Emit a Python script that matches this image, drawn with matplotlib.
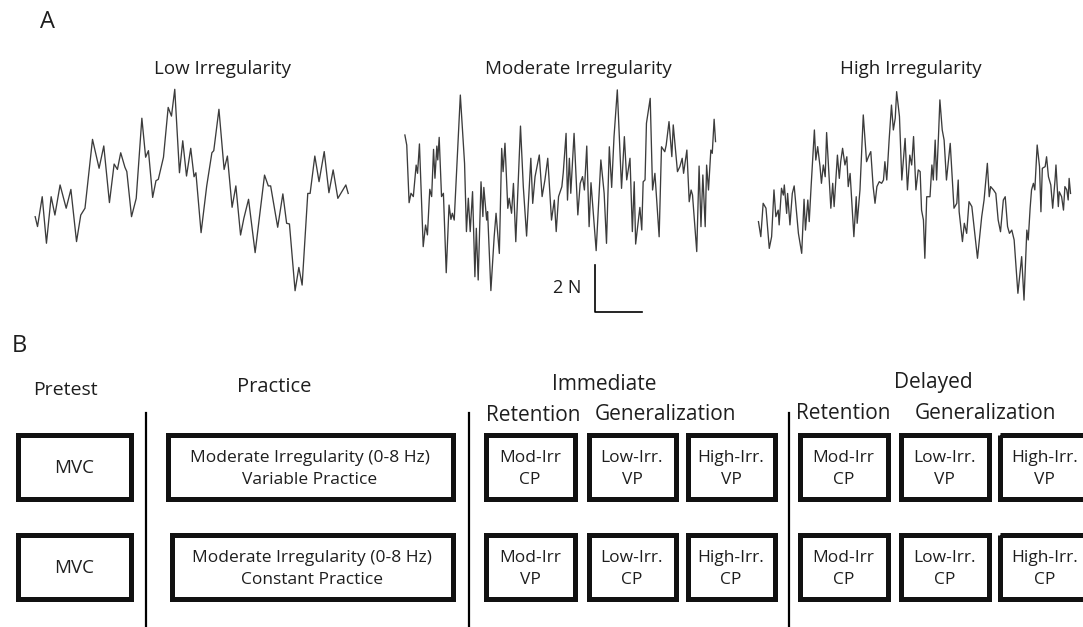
import matplotlib.pyplot as plt
from matplotlib.patches import Rectangle

plt.rcParams['font.family'] = ['Open Sans', 'DejaVu Sans']

W, H = 1083, 627

# Example force traces: time (s) and force (N, relative to the trace mean)
low_t = [0.11, 0.16, 0.26, 0.35, 0.45, 0.53, 0.64, 0.77, 0.87, 0.99, 1.08, 1.17, 1.33,
         1.47, 1.57, 1.69, 1.79, 1.86, 1.93, 2.02, 2.06, 2.16, 2.26, 2.38, 2.46, 2.52,
         2.61, 2.68, 2.73, 2.84, 2.94, 3.01, 3.08, 3.18, 3.25, 3.33, 3.42, 3.49, 3.53,
         3.64, 3.76, 3.87, 3.91, 4.02, 4.13, 4.20, 4.30, 4.38, 4.48, 4.55, 4.65, 4.79,
         4.99, 5.07, 5.12, 5.27, 5.38, 5.46, 5.52, 5.64, 5.72, 5.79, 5.91, 5.96, 6.06,
         6.15, 6.26, 6.36, 6.45, 6.55, 6.72, 6.77]
low_f = [-0.71, -1.13, 0.14, -1.84, 0.14, -0.64, 0.64, -0.35, 0.45, -1.77, -0.64, -0.35,
         2.58, 1.35, 2.30, -0.11, 1.53, 1.30, 2.01, 1.39, 1.21, -0.71, 0.07, 3.48, 1.82,
         2.10, 0.11, 0.82, 0.88, 1.82, 3.94, 3.57, 4.71, 1.16, 2.52, 1.02, 2.20, 0.99,
         1.16, -1.39, 0.60, 2.01, 2.10, 3.86, 1.30, 1.87, -0.31, 0.60, -1.49, -0.78,
         0.03, -2.24, 1.06, 0.60, 0.60, -1.16, 0.26, -0.99, -1.02, -3.86, -2.87, -3.62,
         0.28, 0.28, 1.87, 0.78, 2.06, 0.31, 1.28, 0.07, 0.64, 0.28]

mod_t = [0.21, 0.25, 0.30, 0.34, 0.39, 0.45, 0.48, 0.52, 0.60, 0.65, 0.69, 0.74, 0.78,
         0.82, 0.85, 0.89, 0.91, 0.94, 0.99, 1.03, 1.09, 1.15, 1.19, 1.22, 1.26, 1.39,
         1.48, 1.52, 1.56, 1.60, 1.65, 1.70, 1.73, 1.77, 1.83, 1.87, 1.89, 1.95, 1.97,
         2.04, 2.11, 2.15, 2.22, 2.27, 2.30, 2.34, 2.40, 2.43, 2.48, 2.52, 2.57, 2.67,
         2.73, 2.80, 2.89, 2.93, 2.98, 3.07, 3.13, 3.19, 3.25, 3.33, 3.39, 3.43, 3.48,
         3.55, 3.58, 3.64, 3.67, 3.71, 3.74, 3.78, 3.81, 3.89, 3.94, 3.99, 4.03, 4.08,
         4.13, 4.17, 4.28, 4.38, 4.45, 4.50, 4.56, 4.61, 4.66, 4.73, 4.82, 4.88, 4.93,
         5.00, 5.05, 5.09, 5.12, 5.21, 5.25, 5.28, 5.32, 5.35, 5.43, 5.48, 5.53, 5.62,
         5.67, 5.74, 5.77, 5.83, 5.89, 5.92, 6.01, 6.06, 6.11, 6.14, 6.21, 6.26, 6.30,
         6.33, 6.42, 6.47, 6.51, 6.55, 6.60, 6.63, 6.67, 6.72, 6.75, 6.79, 6.82]
mod_f = [2.34, 1.91, -0.54, -0.14, -0.28, 1.06, 0.71, 1.96, -2.41, -1.49, -1.91, 0.03,
         -0.28, 1.73, 0.50, 1.87, 1.28, 2.24, -0.28, -0.14, -3.52, -0.64, -1.25, -0.99,
         -1.28, 4.04, 1.13, -1.77, -0.35, -1.77, -0.07, -3.69, -1.63, -3.83, 0.35, -1.13,
         0.11, -1.28, -0.92, -4.28, -1.99, -0.99, -2.70, 1.77, 0.78, 1.99, -0.78, -0.35,
         -0.99, 0.28, -2.20, 2.72, 0.14, -1.96, 1.35, -0.57, 0.57, 1.49, -0.28, 0.43,
         1.35, -1.28, -0.43, -1.77, -0.28, 0.14, 0.74, 2.41, -0.43, 1.35, -0.14, 1.28,
         2.41, -1.06, 0.28, 0.57, 0.00, 1.87, -1.56, 0.31, -2.58, 1.28, -0.14, -2.27,
         1.84, 0.11, 2.27, 4.26, 0.07, 2.27, 0.43, 1.35, -1.77, 0.35, -2.30, -0.74, -1.70,
         0.35, 0.43, 2.84, 3.90, 0.00, 0.71, -1.99, 1.84, 1.63, 1.91, 2.91, 1.42, 2.77,
         0.78, 0.99, 1.35, 0.71, 1.70, -0.50, 0.00, -0.21, -2.62, 1.02, -1.56, 0.64,
         -1.56, 1.06, 0.00, 1.70, 1.56, 3.01, 2.06]

high_t = [0.18, 0.23, 0.28, 0.34, 0.41, 0.46, 0.51, 0.55, 0.60, 0.62, 0.67, 0.71, 0.73,
          0.78, 0.80, 0.85, 0.90, 0.94, 1.03, 1.10, 1.15, 1.18, 1.23, 1.26, 1.30, 1.37,
          1.40, 1.44, 1.49, 1.52, 1.56, 1.60, 1.63, 1.67, 1.72, 1.76, 1.79, 1.86, 1.90,
          1.93, 1.97, 2.02, 2.06, 2.09, 2.13, 2.21, 2.26, 2.28, 2.34, 2.41, 2.48, 2.52,
          2.57, 2.62, 2.66, 2.70, 2.75, 2.80, 2.84, 2.87, 2.91, 2.96, 3.01, 3.05, 3.09,
          3.12, 3.18, 3.23, 3.30, 3.35, 3.40, 3.44, 3.48, 3.53, 3.58, 3.62, 3.65, 3.69,
          3.72, 3.76, 3.83, 3.87, 3.90, 3.94, 3.97, 4.01, 4.04, 4.09, 4.13, 4.18, 4.26,
          4.34, 4.40, 4.43, 4.45, 4.52, 4.56, 4.61, 4.66, 4.72, 4.84, 4.93, 4.98, 5.05,
          5.09, 5.12, 5.18, 5.23, 5.28, 5.33, 5.39, 5.43, 5.48, 5.52, 5.57, 5.62, 5.70,
          5.78, 5.83, 5.89, 5.92, 5.96, 5.99, 6.03, 6.06, 6.11, 6.16, 6.19, 6.22, 6.28,
          6.31, 6.35, 6.40, 6.44, 6.49, 6.51, 6.56, 6.58, 6.63, 6.67, 6.70, 6.74, 6.77,
          6.79, 6.82]
high_f = [-0.92, -1.56, -0.14, -0.35, -2.06, -1.56, 0.43, -0.71, -0.43, -1.06, 0.50,
          0.21, 0.64, -0.57, 0.28, -1.06, 0.28, 0.60, -1.42, -2.27, 0.03, -1.28, 0.00,
          -0.92, 0.57, 2.98, 1.70, 2.27, 1.42, 0.71, 1.49, 0.99, 2.87, 1.42, -0.35, 0.71,
          -0.28, 1.91, 0.92, 1.63, 2.20, 1.49, 1.84, 0.57, 1.13, -1.56, 0.14, -0.99, 0.43,
          3.62, 1.63, 1.84, 2.06, 0.57, -0.14, 0.57, 0.78, 0.71, 0.85, 1.63, 0.85, 2.55,
          4.04, 2.98, 3.48, 4.61, 3.55, 0.85, 2.62, 0.43, 1.91, 1.49, 2.70, 0.43, 1.28,
          1.21, -0.43, -0.85, -2.48, 0.14, 0.14, 1.49, 0.85, 2.55, 0.85, 2.70, 4.26, 2.98,
          2.55, 0.85, 2.41, -0.35, -0.14, 0.85, -0.50, -1.77, -0.99, -1.42, -0.07, -0.28,
          -2.48, -0.71, 0.00, 1.56, 0.14, 0.57, 0.43, 0.28, -0.85, -1.35, 0.00, 0.14,
          -1.13, -1.42, -1.28, -1.70, -3.97, -2.41, -4.26, -1.28, -1.70, -0.35, 0.43,
          0.71, 0.43, 2.34, 1.42, -0.50, 1.35, 1.42, 1.84, 0.99, 0.64, -0.35, 0.85, 1.49,
          -0.28, 0.35, 0.14, -0.43, 0.57, 0.43, 0.00, 0.92, 0.28]

trace_titles = ["Low Irregularity", "Moderate Irregularity", "High Irregularity"]

# Study design (panel B)
phases = ["Pretest", "Practice", "Immediate", "Delayed"]
sub_headers = ["Retention", "Generalization"]
pretest_row = ["MVC", "MVC"]
practice_row = ["Moderate Irregularity (0-8 Hz)\nVariable Practice",
                "Moderate Irregularity (0-8 Hz)\nConstant Practice"]
immediate_rows = [["Mod-Irr\nCP", "Low-Irr.\nVP", "High-Irr.\nVP"],
                  ["Mod-Irr\nVP", "Low-Irr.\nCP", "High-Irr.\nCP"]]
delayed_rows = [["Mod-Irr\nCP", "Low-Irr.\nVP", "High-Irr.\nVP"],
                ["Mod-Irr\nCP", "Low-Irr.\nCP", "High-Irr.\nCP"]]

fig = plt.figure(figsize=(W / 100, H / 100), dpi=100)
bg = fig.add_axes([0, 0, 1, 1])
bg.set_xlim(0, W)
bg.set_ylim(H, 0)
bg.axis('off')

text_color = '#1e1e1e'


def px_axes(x0, y0, x1, y1):
    return fig.add_axes([x0 / W, 1 - y1 / H, (x1 - x0) / W, (y1 - y0) / H])


def label(x, y, s, size):
    bg.text(x, y, s, ha='center', va='baseline', fontsize=size, color=text_color)


# ---- panel A: traces ----
trace_color = '#3c3c3c'
ax_low = px_axes(30, 82.5, 359, 317.5)
ax_mod = px_axes(395, 72.5, 724, 331)
ax_high = px_axes(750, 82.5, 1079, 317.5)
for ax, t, f, ylim in [(ax_low, low_t, low_f, (-5, 5)),
                       (ax_mod, mod_t, mod_f, (-6, 5)),
                       (ax_high, high_t, high_f, (-5, 5))]:
    ax.plot(t, f, color=trace_color, lw=0.95)
    ax.set_xlim(0, 7)
    ax.set_ylim(*ylim)
    ax.axis('off')

# scale bar: 2 N vertical, 1 s horizontal
ax_mod.plot([4.26, 4.26, 5.26], [-3.19, -5.19, -5.19], color='black', lw=1.2,
            clip_on=False)
ax_mod.text(3.67, -4.38, "2 N", ha='center', va='baseline', fontsize=13,
            color=text_color)

label(47, 28, "A", 17)
for x, title in zip([222, 578, 911], trace_titles):
    label(x, 74, title, 13.5)

# ---- panel B: design ----
label(19, 352, "B", 17)
label(65, 395, phases[0], 14)
label(274, 392, phases[1], 14.5)
label(604, 390, phases[2], 15)
label(933, 388, phases[3], 15)
label(533, 421, sub_headers[0], 15)
label(843, 419, sub_headers[0], 15)
label(666, 420, sub_headers[1], 15)
label(985, 419, sub_headers[1], 15)

for x in [146, 469, 789]:
    bg.plot([x, x], [413, H], color='black', lw=1.6)

rows_y = [(432, 501), (532, 601)]


def box(x0, x1, y0, y1, text, size):
    lw_px = 5
    bg.add_patch(Rectangle((x0 + lw_px / 2, y0 + lw_px / 2), x1 - x0 - lw_px,
                           y1 - y0 - lw_px, fill=False, ec='#111111',
                           lw=lw_px * 0.72, joinstyle='miter', clip_on=False))
    lines = text.split('\n')
    cap = 0.714 * size * 100 / 72
    c = (y0 + y1) / 2
    for i, s in enumerate(lines):
        yb = c + (i - (len(lines) - 1) / 2) * 22 + cap / 2
        label((x0 + x1) / 2, yb, s, size)


small_cols = [(483, 577), (586, 678), (685, 777)]
del_cols = [(797, 890), (898, 991), (997, 1092)]
for r, (y0, y1) in enumerate(rows_y):
    box(15, 133, y0, y1, pretest_row[r], 13.5)
    box(165 if r == 0 else 169, 455, y0, y1, practice_row[r], 12.5)
    for (x0, x1), lab in zip(small_cols, immediate_rows[r]):
        box(x0, x1, y0, y1, lab, 12.5)
    for (x0, x1), lab in zip(del_cols, delayed_rows[r]):
        box(x0, x1, y0, y1, lab, 12.5)

fig.savefig("out.png", dpi=100, facecolor='white')
